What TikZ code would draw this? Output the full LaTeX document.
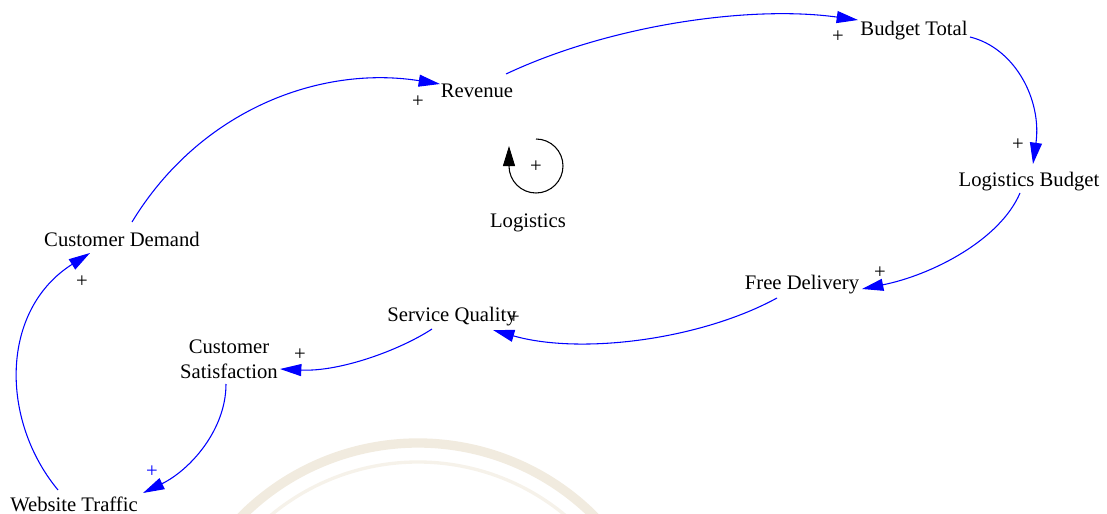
\documentclass[tikz,border=0pt]{standalone}
\usepackage{fontspec}
\setmainfont{Liberation Serif}
\usetikzlibrary{arrows.meta}
\definecolor{linkblue}{RGB}{0,0,255}
\definecolor{sealband}{RGB}{241,235,223}
\definecolor{sealline}{RGB}{246,242,234}
\begin{document}
\begin{tikzpicture}[x=0.75pt,y=-0.75pt,
  var/.style={inner sep=0pt, anchor=base, font=\fontsize{15.5}{18.75}\selectfont},
  twoline/.style={inner sep=0pt, align=center, font=\fontsize{15.5}{18.75}\selectfont},
  pol/.style={inner sep=0pt, font=\fontsize{15.5}{18}\selectfont},
  link/.style={draw=linkblue, line width=0.8pt, -{Triangle[length=16pt,width=9pt]}},
  loopline/.style={draw=black, line width=0.8pt, -{Triangle[length=15pt,width=9pt]}}]
\useasboundingbox (0,0) rectangle (1107,514);

% faint seal in the background
\begin{scope}
  \clip (0,0) rectangle (1107,514);
  \draw[sealband, line width=7pt] (418,692) ++(-140:249) arc[start angle=-140, end angle=-40, radius=249];
  \draw[sealline, line width=2.5pt] (418,692) ++(-140:230) arc[start angle=-140, end angle=-40, radius=230];
\end{scope}

% variables
\node[var] (revenue) at (477,97) {Revenue};
\node[var] (budget) at (914,36) {Budget Total};
\node[var] (logbudget) at (1029,186) {Logistics Budget};
\node[var] (free) at (802,289) {Free Delivery};
\node[var] (service) at (452,321) {Service Quality};
\node[twoline] (satisf) at (229,359) {Customer\\Satisfaction};
\node[var] (traffic) at (74,511) {Website Traffic};
\node[var] (demand) at (122,246) {Customer Demand};

% causal links
\draw[link] ([shift={(10,-24)}]demand.base) .. controls +(68,-112) and +(-120,-19) .. ([shift={(-37,-13)}]revenue.base);
\draw[link] ([shift={(29,-23)}]revenue.base) .. controls +(104,-49) and +(-108,-15) .. ([shift={(-56,-16)}]budget.base);
\draw[link] ([shift={(56,1)}]budget.base) .. controls +(45,11) and +(9,-64) .. ([shift={(4,-22)}]logbudget.base);
\draw[link] ([shift={(-9,7)}]logbudget.base) .. controls +(-20,47) and +(70,-14) .. ([shift={(60,0)}]free.base);
\draw[link] ([shift={(-25,9)}]free.base) .. controls +(-77,42) and +(87,25) .. ([shift={(41,9)}]service.base);
\draw[link] ([shift={(-20,8)}]service.base) .. controls +(-32,21) and +(60,3) .. ([shift={(51,10)}]satisf.center);
\draw[link] ([shift={(-3,25)}]satisf.center) .. controls +(0,46) and +(47,-23) .. ([shift={(69,-18)}]traffic.base);
\draw[link] ([shift={(-16,-21)}]traffic.base) .. controls +(-58,-70) and +(-90,57) .. ([shift={(-32,7)}]demand.base);

% link polarities
\node[pol] (p1) at (418,102) {+};
\node[pol] (p2) at (838,37) {+};
\node[pol] (p3) at (1018,145) {+};
\node[pol] (p4) at (880,273) {+};
\node[pol] (p5) at (514,318) {+};
\node[pol] (p6) at (300,355) {+};
\node[pol, text=linkblue] (p7) at (152,472) {+};
\node[pol] (p8) at (82,282) {+};

% reinforcing loop marker
\node[pol] (loopsign) at (536,167) {+};
\draw[loopline] (536,166) ++(0,-27) arc[start angle=-90, end angle=180, radius=27] -- ++(0,-20);
\node[var] (looplabel) at (528,227) {Logistics};
\end{tikzpicture}
\end{document}
